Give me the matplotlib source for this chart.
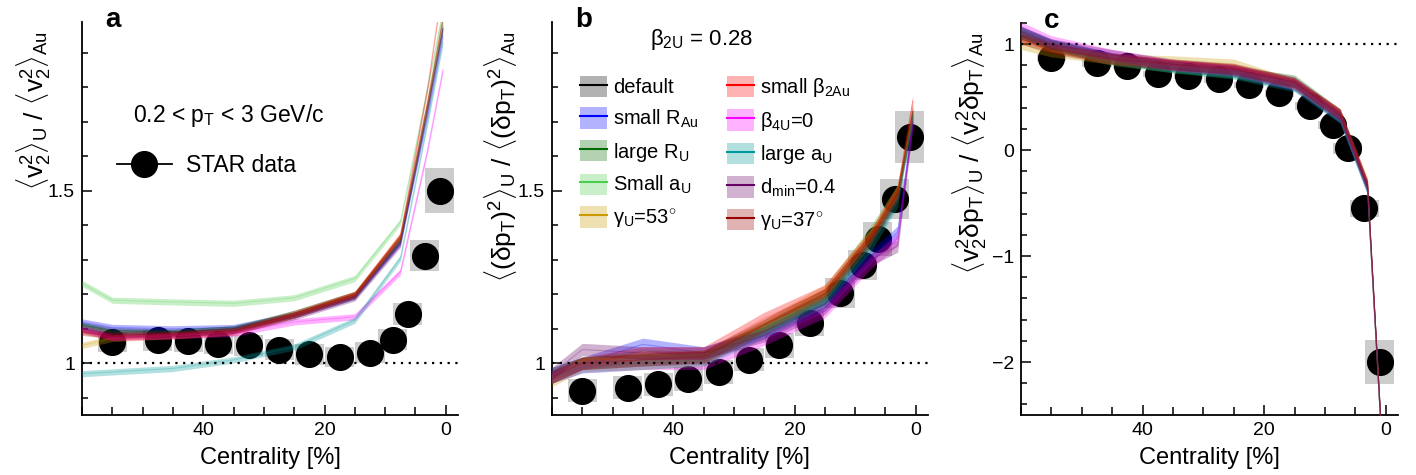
import numpy as np
import matplotlib
matplotlib.use('Agg')
import matplotlib.pyplot as plt
from matplotlib.patches import Rectangle, Patch
from matplotlib.lines import Line2D
from matplotlib.ticker import MultipleLocator

plt.rcParams['font.family'] = ['Liberation Sans', 'DejaVu Sans']
plt.rcParams['mathtext.fontset'] = 'custom'
plt.rcParams['mathtext.rm'] = 'Liberation Sans'
plt.rcParams['mathtext.it'] = 'Liberation Sans'
plt.rcParams['mathtext.bf'] = 'Liberation Sans:bold'

# STAR data, centrality bin centres [%]
cent = [55, 47.5, 42.5, 37.5, 32.5, 27.5, 22.5, 17.5, 12.5, 8.75, 6.25, 3.5, 1.0]
v2_ratio = [1.062, 1.067, 1.064, 1.057, 1.052, 1.040, 1.026, 1.018, 1.031, 1.069, 1.144, 1.312, 1.501]
v2_sys = [0.03, 0.03, 0.03, 0.03, 0.03, 0.03, 0.03, 0.03, 0.03, 0.03, 0.032, 0.045, 0.066]
dpt_ratio = [0.921, 0.929, 0.939, 0.955, 0.975, 1.011, 1.052, 1.117, 1.203, 1.285, 1.360, 1.476, 1.656]
dpt_sys = [0.034, 0.034, 0.034, 0.034, 0.034, 0.034, 0.036, 0.038, 0.044, 0.044, 0.05, 0.058, 0.075]
cov_ratio = [0.874, 0.818, 0.796, 0.717, 0.698, 0.667, 0.613, 0.535, 0.415, 0.236, 0.016, -0.55, -2.0]
cov_sys = [0.03, 0.03, 0.03, 0.03, 0.03, 0.03, 0.03, 0.03, 0.035, 0.04, 0.05, 0.082, 0.207]

# model variations
cent_model = [60, 55, 45, 35, 25, 15, 7.5, 3, 0.5]
model_labels = ['default', r'small R$_{\rm Au}$', r'large R$_{\rm U}$', r'Small a$_{\rm U}$',
                r'$\gamma_{\rm U}$=53$^{\circ}$',
                r'small $\beta_{\rm 2Au}$', r'$\beta_{\rm 4U}$=0', r'large a$_{\rm U}$',
                r'd$_{\rm min}$=0.4', r'$\gamma_{\rm U}$=37$^{\circ}$']
model_colors = ['black', (0, 0, 1), (0, 0.42, 0), (0.3, 0.8, 0.3), (0.8, 0.6, 0.0),
                (1, 0, 0), (1, 0, 1), (0, 0.6, 0.6), (0.4, 0, 0.4), (0.6, 0, 0)]

model_v2 = [
    [1.11, 1.095, 1.09, 1.100, 1.14, 1.195, 1.355, 1.74, 1.97],
    [1.12, 1.104, 1.10, 1.104, 1.14, 1.195, 1.35, 1.72, 1.95],
    [1.11, 1.09, 1.09, 1.100, 1.145, 1.20, 1.36, 1.75, 1.98],
    [1.232, 1.183, 1.178, 1.174, 1.19, 1.246, 1.41, 1.80, 2.02],
    [1.052, 1.072, 1.08, 1.091, 1.14, 1.20, 1.37, 1.76, 2.0],
    [1.095, 1.075, 1.08, 1.090, 1.14, 1.20, 1.37, 1.80, 2.10],
    [1.10, 1.075, 1.08, 1.087, 1.12, 1.135, 1.265, 1.62, 1.85],
    [0.97, 0.975, 0.985, 1.010, 1.047, 1.125, 1.305, 1.70, 1.93],
    [1.10, 1.085, 1.085, 1.095, 1.135, 1.19, 1.345, 1.74, 1.97],
    [1.09, 1.08, 1.085, 1.095, 1.145, 1.20, 1.365, 1.76, 2.0],
]
model_dpt = [
    [0.96, 1.0, 1.01, 1.015, 1.10, 1.19, 1.35, 1.48, 1.72],
    [0.97, 1.0, 1.055, 1.03, 1.09, 1.17, 1.31, 1.38, 1.70],
    [0.97, 1.0, 1.02, 1.02, 1.10, 1.19, 1.36, 1.49, 1.72],
    [0.96, 1.0, 1.01, 1.02, 1.10, 1.20, 1.38, 1.50, 1.72],
    [0.95, 0.995, 1.0, 1.01, 1.11, 1.21, 1.37, 1.50, 1.73],
    [0.96, 1.0, 1.03, 1.03, 1.13, 1.21, 1.37, 1.50, 1.76],
    [0.96, 0.99, 1.0, 1.0, 1.07, 1.15, 1.29, 1.36, 1.70],
    [0.96, 0.99, 1.0, 1.01, 1.09, 1.18, 1.34, 1.47, 1.72],
    [0.97, 1.04, 1.03, 1.03, 1.08, 1.16, 1.30, 1.34, 1.70],
    [0.96, 1.0, 1.01, 1.02, 1.11, 1.20, 1.36, 1.49, 1.73],
]
model_cov = [
    [1.10, 0.99, 0.87, 0.80, 0.75, 0.62, 0.32, -0.35, -2.9],
    [1.12, 1.0, 0.87, 0.79, 0.74, 0.61, 0.31, -0.37, -2.9],
    [1.10, 0.99, 0.86, 0.79, 0.74, 0.66, 0.34, -0.35, -2.9],
    [1.10, 0.98, 0.85, 0.78, 0.73, 0.62, 0.31, -0.36, -2.9],
    [1.0, 0.93, 0.86, 0.84, 0.81, 0.62, 0.34, -0.31, -2.9],
    [1.08, 0.98, 0.86, 0.80, 0.76, 0.63, 0.34, -0.33, -2.9],
    [1.16, 1.03, 0.90, 0.80, 0.75, 0.62, 0.32, -0.35, -2.9],
    [1.12, 1.0, 0.86, 0.78, 0.72, 0.60, 0.30, -0.37, -2.9],
    [1.12, 1.0, 0.90, 0.81, 0.76, 0.64, 0.33, -0.34, -2.9],
    [1.05, 0.96, 0.86, 0.81, 0.77, 0.64, 0.34, -0.33, -2.9],
]


def draw_panel(ax, data, sys, model, band, ylim, major, minor, dotted):
    for x, y, e in zip(cent, data, sys):
        ax.add_patch(Rectangle((x - 2.4, y - e), 4.8, 2 * e, facecolor='0.8',
                               edgecolor='none', zorder=1))
    ax.plot(cent, data, 'o', color='black', markersize=18.5, zorder=2)
    for vals, col in zip(model, model_colors):
        vals = np.array(vals)
        ax.fill_between(cent_model, vals - band, vals + band, color=col, alpha=0.3,
                        lw=0, zorder=3)
        ax.plot(cent_model, vals, color=col, lw=0.8, alpha=0.25, zorder=3)
    ax.axhline(dotted, color='black', ls=(0, (1, 2.5)), lw=1.6, zorder=4)
    ax.set_xlim(60, -2)
    ax.set_ylim(*ylim)
    ax.set_xticks([40, 20, 0])
    ax.xaxis.set_minor_locator(MultipleLocator(5))
    ax.yaxis.set_major_locator(MultipleLocator(major))
    ax.yaxis.set_minor_locator(MultipleLocator(minor))
    for s in ['top', 'right']:
        ax.spines[s].set_visible(False)
    for s in ['left', 'bottom']:
        ax.spines[s].set_linewidth(1.3)
    ax.tick_params(which='both', direction='in', width=1.1, labelsize=14, pad=5)
    ax.tick_params(which='major', length=7.5)
    ax.tick_params(axis='y', which='minor', length=4)
    ax.tick_params(axis='x', which='minor', length=5.5)
    ax.set_xlabel('Centrality [%]', fontsize=17, labelpad=6)


fig = plt.figure(figsize=(14.16, 4.75), dpi=100)
ax_a = fig.add_axes([0.0579, 0.1263, 0.2655, 0.8274])
ax_b = fig.add_axes([0.3898, 0.1263, 0.2655, 0.8274])
ax_c = fig.add_axes([0.7210, 0.1263, 0.2662, 0.8253])

draw_panel(ax_a, v2_ratio, v2_sys, model_v2, 0.009, (0.85, 1.99), 0.5, 0.1, 1.0)
draw_panel(ax_b, dpt_ratio, dpt_sys, model_dpt, 0.018, (0.85, 1.99), 0.5, 0.1, 1.0)
draw_panel(ax_c, cov_ratio, cov_sys, model_cov, 0.05, (-2.5, 1.2), 1, 0.2, 1.0)
ax_a.set_yticks([1, 1.5], ['1', '1.5'])
ax_b.set_yticks([1, 1.5], ['1', '1.5'])

ylabels = [
    r'$\langle$v$_2^2\rangle_{\rm U}\ /\ \langle$v$_2^2\rangle_{\rm Au}$',
    r'$\langle(\delta$p$_{\rm T})^2\rangle_{\rm U}\ /\ \langle(\delta$p$_{\rm T})^2\rangle_{\rm Au}$',
    r'$\langle$v$_2^2\delta$p$_{\rm T}\rangle_{\rm U}\ /\ \langle$v$_2^2\delta$p$_{\rm T}\rangle_{\rm Au}$',
]
for ax, lab, xl, tag in zip([ax_a, ax_b, ax_c], ylabels, [-0.128, -0.137, -0.135], 'abc'):
    ax.text(xl, 0.975, lab, rotation=90, ha='center', va='top', fontsize=19,
            transform=ax.transAxes)
    ax.text(0.062, 0.987, tag, fontsize=20, fontweight='bold', va='baseline',
            transform=ax.transAxes)

ax_a.text(0.136, 0.746, r'0.2 < p$_{\rm T}$ < 3 GeV/c', fontsize=16.5, va='baseline',
          transform=ax_a.transAxes)
star = Line2D([], [], color='black', lw=1.3, marker='o', markersize=18.5)
ax_a.legend([star], ['STAR data'], loc='center left', bbox_to_anchor=(0.093, 0.634),
            frameon=False, fontsize=16.5, handlelength=2.4, handletextpad=0.6,
            borderpad=0, borderaxespad=0)

ax_b.text(0.26, 0.941, r'$\beta_{\rm 2U}$ = 0.28', fontsize=16, va='baseline',
          transform=ax_b.transAxes)
handles = [(Patch(facecolor=c, alpha=0.3, edgecolor='none'), Line2D([], [], color=c, lw=1.5))
           for c in model_colors]
ax_b.legend(handles, model_labels, ncol=2, loc='upper left', bbox_to_anchor=(0.074, 0.863),
            frameon=False, fontsize=14.5, handlelength=1.35, handleheight=1.25,
            handletextpad=0.3, columnspacing=1.4, labelspacing=0.5,
            borderpad=0, borderaxespad=0)

fig.savefig('out.png', dpi=100)
